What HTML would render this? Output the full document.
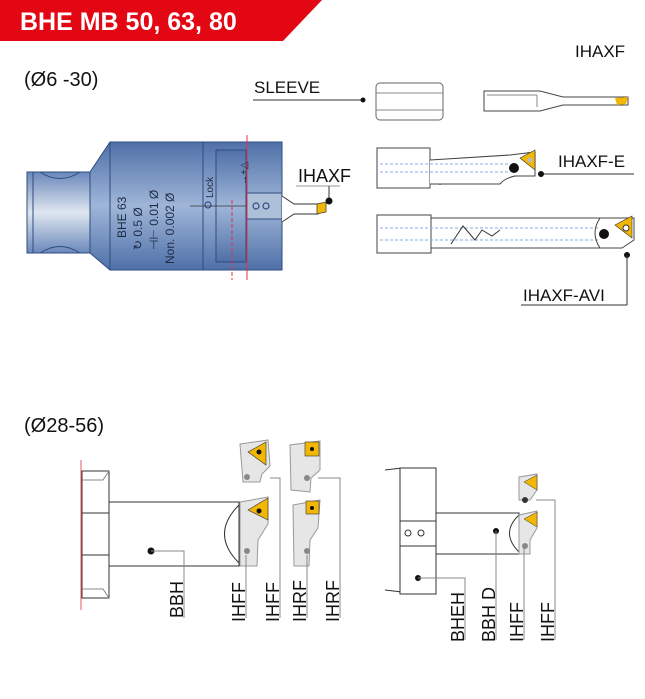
<!DOCTYPE html>
<html><head><meta charset="utf-8"><style>
html,body{margin:0;padding:0;background:#fff;}
svg{display:block;font-family:"Liberation Sans",sans-serif;}
</style></head><body>
<svg width="645" height="699" viewBox="0 0 645 699" xmlns="http://www.w3.org/2000/svg">
<defs>
<linearGradient id="bl" x1="0" y1="0" x2="0" y2="1">
<stop offset="0" stop-color="#4f70a8"/><stop offset="0.5" stop-color="#9fb6d8"/><stop offset="1" stop-color="#4f70a8"/>
</linearGradient>
<linearGradient id="sh" x1="0" y1="0" x2="0" y2="1">
<stop offset="0" stop-color="#6a88bb"/><stop offset="0.5" stop-color="#dfe6f0"/><stop offset="1" stop-color="#6a88bb"/>
</linearGradient>
</defs>
<!-- header -->
<polygon points="0,0 322,0 283,41 0,41" fill="#e30613"/>
<text x="20" y="30" font-size="25" font-weight="bold" fill="#fff">BHE MB 50, 63, 80</text>
<text x="24" y="86" font-size="20" fill="#111">(Ø6 -30)</text>
<text x="24" y="432" font-size="20" fill="#111">(Ø28-56)</text>

<!-- blue body -->
<g stroke="#2e4c80" stroke-width="1">
<path d="M27,172 L90,172 L90,253 L27,253 Z" fill="url(#sh)"/>
<path d="M90,172 L110,142 L282,142 L282,270 L110,270 L90,253 Z" fill="url(#bl)"/>
<line x1="110" y1="142" x2="110" y2="270"/>
<line x1="33" y1="172" x2="33" y2="253"/>
<path d="M40,172 Q60,185 80,172 M40,253 Q60,240 80,253" fill="none"/>
<rect x="203" y="142" width="79" height="128" fill="url(#bl)"/>
<rect x="216" y="150" width="30" height="112" fill="url(#bl)"/>
<rect x="246" y="193" width="36" height="26" fill="#aebfd8"/>
</g>
<g stroke="#2e4c80" fill="none" stroke-width="1.2"><circle cx="208" cy="205" r="3"/><circle cx="256" cy="206" r="3"/><circle cx="266" cy="206" r="3"/></g>
<line x1="190" y1="206" x2="246" y2="206" stroke="#333" stroke-width="0.8"/>
<line x1="247" y1="135" x2="247" y2="280" stroke="#e0304a" stroke-width="1"/>
<line x1="232" y1="200" x2="232" y2="280" stroke="#e0304a" stroke-width="1" stroke-dasharray="4,2"/>
<g fill="#1e2a44" font-size="12" transform="translate(126,238) rotate(-90)">
<text x="0" y="0">BHE 63</text>
<text x="-12" y="16">↻  0.5 Ø</text>
<text x="-12" y="32">⊣⊢ 0.01 Ø</text>
<text x="-26" y="48">Non. 0.002 Ø</text>
</g>
<text font-size="10" fill="#1e2a44" transform="translate(213,198) rotate(-90)">Lock</text>
<text font-size="10" fill="#1e2a44" transform="translate(247,185) rotate(-90)">→+△</text>
<!-- IHAXF small tool -->
<path d="M282,196 L294,204 L318,204 L318,214 L294,214 L282,222" fill="#fff" stroke="#333"/>
<path d="M317,204 L326,202 L326,212 L317,214 Z" fill="#f2b705" stroke="#333" stroke-width="0.7"/>
<text x="298" y="182" font-size="18" fill="#111">IHAXF</text>
<line x1="296" y1="186" x2="340" y2="186" stroke="#999"/>
<line x1="329" y1="186" x2="329" y2="200" stroke="#333"/>
<circle cx="329" cy="201" r="3.5" fill="#111"/>

<!-- SLEEVE -->
<text x="254" y="93" font-size="17" fill="#111">SLEEVE</text>
<line x1="253" y1="100" x2="362" y2="100" stroke="#333"/>
<circle cx="363" cy="100" r="2.5" fill="#111"/>
<rect x="376" y="83" width="67" height="37" rx="4" fill="#fff" stroke="#666"/>
<line x1="376" y1="93" x2="443" y2="93" stroke="#888"/>
<line x1="376" y1="110" x2="443" y2="110" stroke="#888"/>
<text x="575" y="57" font-size="17" fill="#111">IHAXF</text>
<path d="M484,91 L540,91 L563,97 L628,97 L628,105 L563,105 L540,111 L484,111 Z" fill="#fff" stroke="#444"/>
<line x1="487" y1="95" x2="537" y2="95" stroke="#888"/><line x1="537" y1="95" x2="537" y2="107" stroke="#888"/>
<path d="M615,98 L628,97 L626,104 L617,105 Z" fill="#f2b705"/>

<!-- IHAXF-E -->
<path d="M377,148 L430,148 L430,188 L377,188 Z" fill="#fff" stroke="#444"/>
<line x1="440" y1="160" x2="440" y2="185" stroke="#444"/>
<path d="M430,160 L510,155 L535,152 L535,176 L515,176 Q505,178 500,184 L430,184" fill="#fff" stroke="#444"/>
<line x1="380" y1="164" x2="510" y2="164" stroke="#8aaee0" stroke-dasharray="3,2"/>
<line x1="380" y1="172" x2="510" y2="172" stroke="#8aaee0" stroke-dasharray="3,2"/>
<ellipse cx="514" cy="168" rx="5" ry="5" fill="#111"/>
<polygon points="520,158 535,150 535,170" fill="#f2b705" stroke="#333" stroke-width="0.6"/>
<circle cx="530" cy="160" r="2.5" fill="#bbb"/>
<text x="558" y="167" font-size="17" fill="#111">IHAXF-E</text>
<line x1="541" y1="174" x2="634" y2="174" stroke="#333"/>
<circle cx="541" cy="174" r="3" fill="#111"/>

<!-- IHAXF-AVI -->
<rect x="377" y="215" width="54" height="38" fill="#fff" stroke="#444"/>
<path d="M431,218 L634,218 L634,240 L622,248 L431,248 Z" fill="#fff" stroke="#444"/>
<line x1="380" y1="228" x2="600" y2="228" stroke="#8aaee0" stroke-dasharray="3,2"/>
<line x1="380" y1="240" x2="600" y2="240" stroke="#8aaee0" stroke-dasharray="3,2"/>
<path d="M451,244 L463,226 L475,240 L482,230 L492,236 L500,230" fill="none" stroke="#333"/>
<path d="M600,218 Q590,233 600,248" fill="none" stroke="#444"/>
<circle cx="604" cy="234" r="5" fill="#111"/>
<polygon points="615,225 632,216 632,238" fill="#f2b705" stroke="#333" stroke-width="0.6"/>
<circle cx="626" cy="228" r="3" fill="#fff" stroke="#333"/>
<circle cx="627" cy="255" r="3" fill="#111"/>
<line x1="627" y1="255" x2="627" y2="305" stroke="#333"/>
<line x1="521" y1="305" x2="627" y2="305" stroke="#333"/>
<text x="523" y="301" font-size="17" fill="#111">IHAXF-AVI</text>

<!-- lower left assembly -->
<line x1="81" y1="460" x2="81" y2="610" stroke="#e0304a" stroke-width="0.8"/>
<rect x="82" y="471" width="27" height="127" fill="#fff" stroke="#333"/>
<line x1="82" y1="513" x2="109" y2="513" stroke="#333"/><line x1="82" y1="555" x2="109" y2="555" stroke="#333"/>
<path d="M82,480 L103,480 L109,471 M82,589 L103,589 L109,598" fill="none" stroke="#888"/>
<rect x="109" y="502" width="130" height="64" fill="#fff" stroke="#333"/>
<path d="M239,505 Q210,534 239,563" fill="none" stroke="#333"/>
<circle cx="151" cy="551" r="3.5" fill="#111"/>
<path d="M151,551 L184,551 L184,618" fill="none" stroke="#888"/>
<text font-size="18" fill="#111" transform="translate(183,618) rotate(-90)">BBH</text>
<g fill="#e6e6e6" stroke="#999">
<path d="M240,444 L268,440 L270,466 L262,474 L260,482 L243,482 Z"/>
<path d="M240,502 L268,497 L268,524 L258,540 L257,566 L240,566 Z"/>
<path d="M290,445 L320,441 L320,470 L311,478 L310,492 L291,490 Z"/>
<path d="M293,505 L320,500 L318,528 L310,540 L309,566 L294,566 Z"/>
</g>
<g fill="#f2b705" stroke="#333" stroke-width="0.6">
<polygon points="248,452 266,442 266,465"/>
<polygon points="248,510 268,498 268,520"/>
<rect x="305" y="442" width="14" height="14"/>
<rect x="306" y="501" width="13" height="13"/>
</g>
<g fill="#111"><circle cx="259" cy="452" r="2.5"/><circle cx="259" cy="511" r="2.5"/><circle cx="312" cy="449" r="2"/><circle cx="312" cy="508" r="2"/></g>
<g fill="#888"><circle cx="247" cy="477" r="3"/><circle cx="247" cy="551" r="3"/><circle cx="307" cy="478" r="3"/><circle cx="307" cy="551" r="3"/></g>
<g stroke="#888" fill="none">
<path d="M270,478 L280,478 L280,618"/>
<path d="M246,555 L246,618"/>
<path d="M318,478 L340,478 L340,618"/>
<path d="M307,555 L307,618"/>
</g>
<g font-size="18" fill="#111">
<text transform="translate(245,622) rotate(-90)">IHFF</text>
<text transform="translate(279,622) rotate(-90)">IHFF</text>
<text transform="translate(306,622) rotate(-90)">IHRF</text>
<text transform="translate(339,622) rotate(-90)">IHRF</text>
</g>

<!-- lower right assembly -->
<path d="M385,470 L402,468 M385,590 L402,592" stroke="#333"/>
<rect x="400" y="468" width="36" height="126" fill="#fff" stroke="#333"/>
<line x1="400" y1="521" x2="436" y2="521" stroke="#333"/><line x1="400" y1="546" x2="436" y2="546" stroke="#333"/>
<rect x="436" y="513" width="83" height="41" fill="#fff" stroke="#333"/>
<path d="M519,515 Q500,533 519,552" fill="none" stroke="#333"/>
<g stroke="#333" fill="none"><circle cx="408" cy="533" r="3"/><circle cx="421" cy="533" r="3"/></g>
<circle cx="496" cy="531" r="3" fill="#111"/>
<circle cx="418" cy="578" r="3" fill="#111"/>
<path d="M418,578 L465,578 L465,640" fill="none" stroke="#888"/>
<path d="M496,531 L496,640" fill="none" stroke="#888"/>
<g fill="#e6e6e6" stroke="#999">
<path d="M519,477 L537,474 L537,490 L530,500 L519,500 Z"/>
<path d="M519,515 L537,511 L537,528 L530,540 L530,554 L519,554 Z"/>
</g>
<g fill="#f2b705" stroke="#333" stroke-width="0.5"><polygon points="524,482 537,475 537,490"/><polygon points="524,519 537,512 537,527"/></g>
<circle cx="525" cy="500" r="3" fill="#333"/><circle cx="525" cy="546" r="3" fill="#888"/>
<path d="M536,500 L555,500 L555,640" fill="none" stroke="#888"/>
<path d="M524,548 L524,640" fill="none" stroke="#888"/>
<g font-size="18" fill="#111">
<text transform="translate(464,642) rotate(-90)">BHEH</text>
<text transform="translate(495,642) rotate(-90)">BBH D</text>
<text transform="translate(523,642) rotate(-90)">IHFF</text>
<text transform="translate(554,642) rotate(-90)">IHFF</text>
</g>
</svg>
</body></html>
